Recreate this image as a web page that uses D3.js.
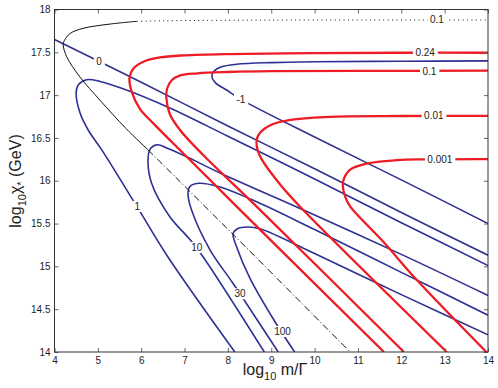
<!DOCTYPE html>
<html lang="en">
<head>
<meta charset="UTF-8">
<title>Contours of m/Gamma vs chi*</title>
<style>
    body {
        margin: 0;
        padding: 0;
        background: #ffffff;
    }
    svg {
        display: block;
        font-family: "Liberation Sans", Arial, sans-serif;
    }
    .tick text {
        font-size: 10px;
        fill: #222;
    }
    .tick line {
        stroke: #666;
    }
</style>
</head>
<body>
<div id="chart"></div>

<script src="https://d3js.org/d3.v7.min.js"></script>
<script>
// axis ticks
const xTicks = [4, 5, 6, 7, 8, 9, 10, 11, 12, 13, 14];
const yTicks = [14, 14.5, 15, 15.5, 16, 16.5, 17, 17.5, 18];

// blue contours, [log10 m/Gamma, log10 chi*]
const blueZero = [[4, 17.65], [6, 17.15], [8, 16.64], [10, 16.14], [12, 15.63], [14, 15.13]];
const blueMinusOne = [[14, 17.40], [12, 17.395], [10, 17.39], [9, 17.38], [8.2, 17.36], [7.85, 17.33],
    [7.68, 17.28], [7.63, 17.22], [7.72, 17.14], [7.97, 17.06], [8.3, 16.95], [10, 16.51], [12, 16.01], [14, 15.50]];
const blueOne = [[14, 15.01], [12, 15.51], [10.08, 16.0], [8, 16.52], [6.66, 16.85], [5.55, 17.08],
    [5.05, 17.16], [4.74, 17.18], [4.55, 17.12], [4.50, 17.03], [4.59, 16.79], [4.78, 16.59],
    [5.09, 16.36], [5.9, 15.70], [6.59, 15.13], [8.16, 14.0]];
const blueTen = [[14, 14.66], [12, 15.14], [9.82, 15.64], [7.82, 16.09], [7.05, 16.28], [6.6, 16.38],
    [6.38, 16.42], [6.22, 16.38], [6.16, 16.27], [6.24, 15.97], [6.66, 15.58], [7.13, 15.31],
    [7.43, 15.11], [8.84, 14.0]];
const blueThirty = [[14, 14.43], [12, 14.93], [10, 15.43], [8.55, 15.78], [7.8, 15.93], [7.32, 15.97],
    [7.12, 15.93], [7.08, 15.85], [7.16, 15.66], [7.59, 15.19], [8.12, 14.80], [9.16, 14.0]];
const blueHundred = [[14, 14.20], [12, 14.67], [10, 15.15], [8.74, 15.44], [8.45, 15.46], [8.22, 15.44],
    [8.12, 15.38], [8.20, 15.23], [8.51, 14.86], [9.09, 14.35], [9.54, 14.0]];

// red contours
const redP24 = [[14, 17.495], [12, 17.495], [10, 17.49], [8, 17.48], [7, 17.465], [6.43, 17.44],
    [6.05, 17.39], [5.82, 17.31], [5.73, 17.2], [5.78, 17.04], [5.97, 16.84], [6.28, 16.67],
    [7.05, 16.28], [8.28, 15.66], [11.6, 14.0]];
const redP1 = [[14, 17.285], [11, 17.283], [9, 17.28], [8, 17.27], [7.3, 17.255], [6.9, 17.23],
    [6.7, 17.17], [6.6, 17.08], [6.58, 16.97], [6.66, 16.78], [6.9, 16.59], [7.43, 16.30],
    [8.74, 15.66], [12.06, 14.0]];
const redP01 = [[14, 16.758], [12, 16.756], [10.5, 16.75], [9.6, 16.72], [9.15, 16.68], [8.85, 16.61],
    [8.70, 16.53], [8.66, 16.45], [8.69, 16.35], [8.78, 16.25], [9.2, 15.96], [9.66, 15.70], [13.05, 14.0]];
const redP001 = [[14, 16.253], [12.55, 16.25], [11.89, 16.24], [11.2, 16.20], [10.82, 16.13],
    [10.68, 16.03], [10.65, 15.95], [10.70, 15.82], [10.82, 15.70], [11.58, 15.29], [12.36, 14.84], [14, 13.98]];

// black contour: solid, dotted and dash-dot pieces
const blackSolid = [[5.9, 17.862], [5.28, 17.83], [4.66, 17.78], [4.36, 17.72], [4.23, 17.64],
    [4.20, 17.59], [4.28, 17.45], [4.59, 17.21], [5.05, 16.94], [5.65, 16.61], [6.16, 16.36]];
const blackDotted = [[5.9, 17.862], [6.5, 17.868], [8, 17.874], [10, 17.877], [14, 17.878]];
const blackDashDot = [[6.16, 16.36], [8.66, 15.10], [10.82, 14.0]];

// contour labels: text, x, y
const blueLabels = [["0", 5.03, 17.39], ["-1", 8.30, 16.95], ["1", 5.91, 15.70],
    ["10", 7.28, 15.22], ["30", 8.28, 14.68], ["100", 9.26, 14.24]];
const redLabels = [["0.24", 12.55, 17.50], ["0.1", 12.65, 17.28], ["0.01", 12.75, 16.76], ["0.001", 12.89, 16.25]];
const blackLabels = [["0.1", 12.82, 17.88]];

const W = 498, H = 388;
const margin = {left: 54.5, top: 9.5, right: 10, bottom: 36};
const innerW = 488 - margin.left;
const innerH = 352 - margin.top;

const svg = d3.select("#chart").append("svg")
    .attr("width", W)
    .attr("height", H);

const g = svg.append("g")
    .attr("transform", `translate(${margin.left},${margin.top})`);

const x = d3.scaleLinear().domain([4, 14]).range([0, innerW]);
const y = d3.scaleLinear().domain([14, 18]).range([innerH, 0]);

g.append("clipPath").attr("id", "plotclip")
    .append("rect").attr("width", innerW).attr("height", innerH);

const line = d3.line()
    .x(d => x(d[0]))
    .y(d => y(d[1]))
    .curve(d3.curveCatmullRom.alpha(0.5));

const blue = "#2e3192", red = "#ee1c24";

const curves = g.append("g").attr("clip-path", "url(#plotclip)");

[blueZero, blueMinusOne, blueOne, blueTen, blueThirty, blueHundred].forEach(c => {
    curves.append("path").attr("d", line(c))
        .attr("fill", "none").attr("stroke", blue).attr("stroke-width", 1.6);
});

curves.append("path").attr("d", line(blackSolid))
    .attr("fill", "none").attr("stroke", "#111").attr("stroke-width", 1);
curves.append("path").attr("d", line(blackDotted))
    .attr("fill", "none").attr("stroke", "#111").attr("stroke-width", 1)
    .attr("stroke-dasharray", "1,3.4");
curves.append("path").attr("d", line(blackDashDot))
    .attr("fill", "none").attr("stroke", "#111").attr("stroke-width", 1)
    .attr("stroke-dasharray", "7,2.5,1,2.5");

[redP24, redP1, redP01, redP001].forEach(c => {
    curves.append("path").attr("d", line(c))
        .attr("fill", "none").attr("stroke", red).attr("stroke-width", 2.3);
});

// contour labels with a white gap behind them
const labels = g.append("g");
[...blueLabels, ...redLabels, ...blackLabels].forEach(([t, lx, ly]) => {
    const txt = labels.append("text")
        .attr("x", x(lx)).attr("y", y(ly))
        .attr("text-anchor", "middle")
        .attr("dy", "0.35em")
        .attr("font-size", 10)
        .attr("fill", "#222")
        .text(t);
    const b = txt.node().getBBox();
    labels.insert("rect", "text")
        .attr("x", b.x - 2.5).attr("y", b.y)
        .attr("width", b.width + 5).attr("height", b.height)
        .attr("fill", "#fff");
});

// axes, ticks pointing inward on all four sides
const fmt = d => String(d);
g.append("g").attr("transform", `translate(0,${innerH})`)
    .call(d3.axisBottom(x).tickValues(xTicks).tickFormat(fmt).tickSize(-4).tickSizeOuter(0).tickPadding(5))
    .call(a => a.select(".domain").remove());
g.append("g")
    .call(d3.axisTop(x).tickValues(xTicks).tickFormat("").tickSize(-4).tickSizeOuter(0))
    .call(a => a.select(".domain").remove());
g.append("g")
    .call(d3.axisLeft(y).tickValues(yTicks).tickFormat(fmt).tickSize(-4).tickSizeOuter(0).tickPadding(4))
    .call(a => a.select(".domain").remove());
g.append("g").attr("transform", `translate(${innerW},0)`)
    .call(d3.axisRight(y).tickValues(yTicks).tickFormat("").tickSize(-4).tickSizeOuter(0))
    .call(a => a.select(".domain").remove());

g.append("rect")
    .attr("width", innerW).attr("height", innerH)
    .attr("fill", "none").attr("stroke", "#333").attr("stroke-width", 1);

// axis titles
const xt = svg.append("text")
    .attr("x", 275).attr("y", 375)
    .attr("text-anchor", "middle")
    .attr("font-size", 16).attr("fill", "#222");
xt.append("tspan").text("log");
xt.append("tspan").attr("font-size", 11).attr("dy", 5).text("10");
xt.append("tspan").attr("dy", -5).text(" m/Γ");

const yt = svg.append("text")
    .attr("transform", "translate(21,181) rotate(-90)")
    .attr("text-anchor", "middle")
    .attr("font-size", 16).attr("fill", "#222");
yt.append("tspan").text("log");
yt.append("tspan").attr("font-size", 11).attr("dy", 5).text("10");
yt.append("tspan").attr("dy", -5).text("χ");
yt.append("tspan").attr("font-size", 11).attr("dy", 4).text("*");
yt.append("tspan").attr("dy", -4).text(" (GeV)");
</script>
</body>
</html>
